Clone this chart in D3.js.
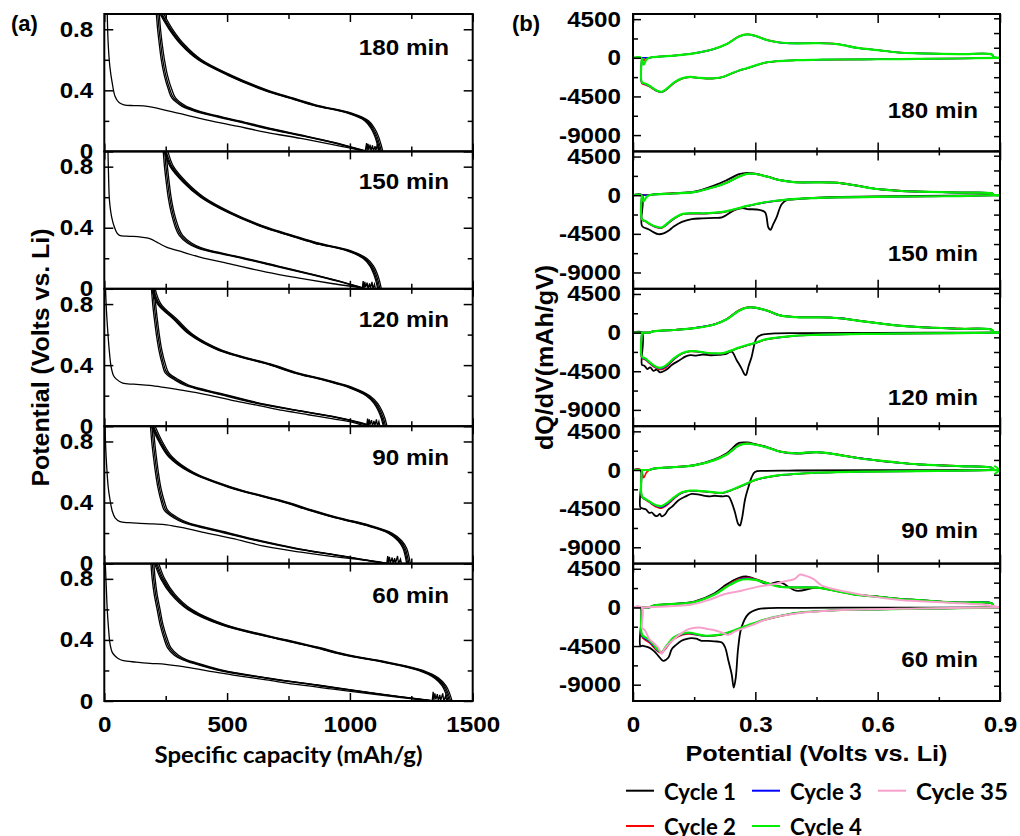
<!DOCTYPE html>
<html><head><meta charset="utf-8">
<script src="https://cdn.jsdelivr.net/npm/d3@7"></script>
<style>
html,body{margin:0;padding:0;background:#fff;}
svg{display:block;}
.arial{font-family:"Liberation Sans",Arial,sans-serif;font-weight:bold;fill:#000;}
.cal{font-family:Lato,"Open Sans",sans-serif;font-weight:bold;fill:#000;}
</style></head><body>
<svg id="chart" width="1020" height="836"></svg>
<script>
// ---------- labels and ticks ----------
const PANEL_LABELS = ["180 min", "150 min", "120 min", "90 min", "60 min"];
const CAP_TICKS_MAJOR = [0, 500, 1000, 1500];
const CAP_TICKS_MINOR = [250, 750, 1250];
const VOLT_TICKS_MAJOR = [0, 0.4, 0.8];
const VOLT_TICKS_MINOR = [0.2, 0.6];
const POT_TICKS_MAJOR = [0, 0.3, 0.6, 0.9];
const POT_TICKS_MINOR = [0.15, 0.45, 0.75];
const DQ_TICKS_MAJOR = [4500, 0, -4500, -9000];
const DQ_TICKS_MINOR = [2250, -2250, -6750];
const DQ_TICKS_RIGHT = [4600, 2880, 1170, -550, -2260, -3980, -5690, -7400, -9120, -10830];
const LEGEND = [
  {label: "Cycle 1", color: "#000000"},
  {label: "Cycle 2", color: "#ff0000"},
  {label: "Cycle 3", color: "#0000ff"},
  {label: "Cycle 4", color: "#00ee00"},
  {label: "Cycle 35", color: "#f7a0cc"}
];

// ---------- (a) voltage profiles: potential grids ----------
const CHARGE_V = [0, 0.05, 0.1, 0.15, 0.2, 0.25, 0.3, 0.35, 0.4, 0.5, 0.6, 0.7, 0.8, 0.9];
const DISCH_V = [0.9, 0.8, 0.7, 0.6, 0.5, 0.4, 0.35, 0.3, 0.27, 0.25, 0.2, 0.15, 0.1, 0.05, 0];

// first discharge, [capacity mAh/g, V], one per panel (180,150,120,90,60 min)
const firstDischarge = [
  [[12,0.9],[16,0.7],[23,0.55],[32,0.45],[44,0.36],[60,0.32],[80,0.305],[120,0.3],[160,0.298],[210,0.285],[260,0.265],[330,0.24],[420,0.205],[540,0.165],[660,0.125],[800,0.085],[930,0.045],[1030,0.012],[1060,0]],
  [[15,0.9],[18,0.7],[21,0.58],[30,0.47],[42,0.4],[52,0.365],[62,0.35],[90,0.345],[117,0.343],[150,0.338],[185,0.328],[220,0.3],[253,0.273],[320,0.24],[389,0.208],[520,0.16],[660,0.109],[800,0.068],[932,0.033],[1041,0.007],[1055,0]],
  [[5,0.9],[9,0.75],[14,0.625],[20,0.5],[28,0.387],[38,0.33],[48,0.31],[75,0.282],[120,0.275],[185,0.267],[250,0.252],[321,0.234],[420,0.205],[525,0.168],[630,0.135],[728,0.103],[830,0.075],[932,0.048],[1000,0.03],[1055,0.004],[1060,0]],
  [[3,0.9],[6,0.75],[10,0.63],[16,0.5],[23,0.42],[33,0.34],[44,0.3],[64,0.275],[100,0.268],[145,0.264],[200,0.26],[254,0.254],[320,0.235],[390,0.21],[520,0.165],[661,0.111],[800,0.075],[932,0.046],[1050,0.025],[1136,0.007],[1150,0]],
  [[4,0.9],[8,0.75],[12,0.6],[17,0.48],[23,0.378],[32,0.32],[44,0.295],[60,0.275],[78,0.264],[130,0.255],[186,0.247],[250,0.24],[321,0.225],[420,0.198],[525,0.17],[660,0.138],[797,0.105],[932,0.078],[1068,0.05],[1200,0.024],[1326,0.002],[1335,0]]
];

// charge capacities on CHARGE_V, cycles 1-4, per panel
const chargeCaps = [
  [[1134,1126,1116,1101,1076,1007,872,767,667,516,396,326,278,242],
   [1128,1120,1110,1095,1070,1000,865,760,660,510,390,320,272,235],
   [1123,1115,1105,1090,1065,995,860,755,655,505,386,316,268,231],
   [1119,1111,1101,1086,1061,991,856,751,651,501,382,312,264,227]],
  [[1128,1121,1111,1096,1068,1002,869,767,667,518,406,334,282,259],
   [1122,1115,1105,1090,1062,995,862,760,660,512,400,328,276,252],
   [1117,1110,1100,1085,1057,990,857,755,655,507,396,324,272,248],
   [1113,1106,1096,1081,1053,986,853,751,651,503,392,320,268,244]],
  [[1151,1143,1131,1113,1081,1017,912,787,692,476,361,296,231,207],
   [1145,1137,1125,1107,1075,1010,905,780,685,470,355,290,225,200],
   [1140,1132,1120,1102,1070,1005,900,775,680,465,351,286,221,196],
   [1136,1128,1116,1098,1066,1001,896,771,676,461,347,282,217,192]],
  [[1246,1240,1231,1211,1171,1082,957,847,752,521,361,276,236,207],
   [1240,1234,1225,1205,1165,1075,950,840,745,515,355,270,230,200],
   [1235,1229,1220,1200,1160,1070,945,835,740,510,351,266,226,196],
   [1231,1225,1216,1196,1156,1066,941,831,736,506,347,262,222,192]],
  [[1416,1406,1391,1361,1297,1168,998,878,743,492,356,287,246,222],
   [1410,1400,1385,1355,1290,1160,990,870,735,485,349,281,240,215],
   [1405,1395,1380,1350,1284,1153,983,863,728,479,344,276,235,210],
   [1400,1390,1375,1345,1279,1148,978,858,722,474,339,271,230,205]]
];

// discharge capacities on DISCH_V, cycles 2-4, per panel
const dischargeCaps = [
  [[212,217,224,232,244,262,275,312,355,395,530,660,810,950,1065],
   [218,223,230,238,250,268,282,320,364,405,540,668,816,955,1068],
   [224,229,236,245,257,276,290,329,374,415,550,676,822,960,1072]],
  [[240,245,252,260,272,290,305,338,375,415,560,690,825,950,1058],
   [246,251,258,266,278,296,312,346,384,425,568,697,830,954,1062],
   [252,257,264,272,284,303,319,355,393,435,576,704,836,958,1066]],
  [[192,197,204,212,222,237,248,290,325,365,490,620,790,965,1085],
   [198,203,210,218,228,243,255,298,334,375,500,628,796,970,1090],
   [204,209,216,224,234,250,262,307,343,385,510,636,802,975,1095]],
  [[188,193,200,208,218,233,244,282,320,360,490,620,770,960,1145],
   [194,199,206,214,224,239,251,290,329,370,500,628,777,965,1150],
   [200,205,212,220,230,246,258,299,338,380,510,636,784,970,1155]],
  [[190,195,203,215,227,245,257,285,318,355,465,655,875,1095,1335],
   [196,201,209,221,233,251,264,293,327,365,475,663,882,1100,1340],
   [202,207,215,227,239,258,271,302,336,375,485,671,889,1106,1345]]
];

// noisy low-voltage hold at the end of each discharge, [capacity, V]
const holdNoise = [
  [[1062,0],[1068,0.055],[1070,0.005],[1074,0.05],[1077,0.01],[1082,0.045],[1086,0.005],[1092,0.04],[1096,0],[1102,0.035],[1106,0.005],[1112,0.05],[1116,0]],
  [[1050,0],[1054,0.05],[1057,0.005],[1061,0.045],[1064,0.01],[1070,0.04],[1074,0],[1080,0.035],[1084,0.005],[1090,0.045],[1094,0],[1100,0.03],[1104,0]],
  [[1068,0],[1072,0.05],[1075,0.005],[1079,0.045],[1082,0.01],[1088,0.04],[1092,0],[1098,0.035],[1102,0.005],[1108,0.045],[1112,0],[1118,0.03],[1122,0]],
  [[1150,0],[1154,0.05],[1157,0.005],[1161,0.045],[1165,0.005],[1172,0.04],[1176,0],[1182,0.035],[1186,0.005],[1194,0.05],[1198,0],[1206,0.03],[1210,0]],
  [[1335,0],[1339,0.06],[1342,0.005],[1346,0.05],[1350,0.01],[1356,0.045],[1360,0],[1366,0.04],[1370,0.005],[1378,0.05],[1382,0],[1390,0.035],[1394,0]]
];

// ---------- (b) differential capacity: potential grids ----------
const UP_V = [0, 0.02, 0.026, 0.033, 0.04, 0.05, 0.1, 0.15, 0.2, 0.23, 0.26, 0.28, 0.3, 0.33, 0.36, 0.4, 0.45, 0.5, 0.55, 0.6, 0.65, 0.7, 0.8, 0.88, 0.885, 0.9];
const DOWN_V = [0.9, 0.8, 0.7, 0.6, 0.5, 0.45, 0.4, 0.35, 0.32, 0.3, 0.28, 0.26, 0.24, 0.22, 0.2, 0.18, 0.16, 0.14, 0.12, 0.1, 0.09, 0.08, 0.07, 0.06, 0.05, 0.04, 0.03, 0.022, 0.022];

// delithiation branch (dQ/dV on UP_V), per panel
const upCycle1 = [
  null,
  [0,0,0,0,0,90,230,420,1150,1750,2450,2600,2500,2150,1750,1500,1500,1450,1100,720,520,420,300,210,30,0],
  [0,0,0,0,0,150,300,520,960,1560,2560,2900,2890,2540,2000,1800,1780,1700,1400,1100,820,650,450,320,40,0],
  [0,0,0,0,0,160,340,560,1250,1950,3150,3200,3000,2650,2150,1900,2050,1800,1400,1100,850,650,450,260,40,0],
  [0,0,0,0,0,220,420,680,1650,2700,3450,3590,3300,2700,2950,1950,2300,1900,1450,1250,1000,850,560,470,80,0]
];
const upCycle2 = [
  [0,0,-300,0,0,90,260,530,1060,1620,2500,2750,2560,2060,1790,1690,1710,1610,1160,910,630,530,430,390,60,0],
  [0,0,0,0,0,80,210,360,970,1470,2170,2500,2480,2160,1760,1510,1510,1460,1110,730,530,430,310,220,40,0],
  [0,0,0,0,0,150,310,540,980,1600,2600,2950,2920,2560,2020,1820,1800,1720,1420,1110,830,660,460,330,40,0],
  [0,0,-900,-300,0,150,340,540,1170,1830,2900,3100,2980,2620,2170,1970,2100,1820,1420,1120,860,660,460,270,40,0],
  [0,0,0,0,0,200,400,640,1550,2500,3300,3480,3300,2850,2450,2300,2300,1920,1480,1270,1020,870,570,470,80,0]
];
const upCycle3 = [
  [0,0,0,0,0,85,255,525,1040,1590,2470,2720,2540,2040,1770,1680,1700,1600,1150,900,620,520,420,400,80,0],
  [0,0,0,0,0,80,205,355,960,1460,2160,2490,2475,2155,1755,1505,1505,1455,1105,725,525,425,305,230,40,0],
  [0,0,0,0,0,150,305,530,960,1570,2570,2920,2910,2550,2010,1810,1790,1710,1410,1105,825,655,455,325,40,0],
  [0,0,0,0,0,150,335,535,1160,1815,2870,3080,2960,2610,2160,1960,2090,1810,1410,1115,855,655,455,265,40,0],
  [0,0,0,0,0,200,400,630,1520,2450,3230,3380,3250,2820,2420,2330,2310,1930,1470,1260,1010,860,570,480,80,0]
];
const upCycle4 = [
  [0,0,-800,-200,0,80,250,520,1050,1600,2480,2730,2550,2050,1780,1680,1700,1600,1150,900,620,520,420,380,60,0],
  [0,0,-700,-200,0,80,200,350,950,1450,2150,2480,2470,2150,1750,1500,1500,1450,1100,720,520,420,300,210,30,0],
  [0,0,0,0,0,150,300,520,950,1550,2550,2900,2900,2550,2000,1800,1780,1700,1400,1100,820,650,450,320,40,0],
  [0,0,0,0,0,150,330,530,1150,1800,2850,3060,2950,2600,2150,1950,2080,1800,1400,1110,850,650,450,260,40,0],
  [0,0,0,0,0,200,400,620,1500,2400,3150,3300,3200,2800,2400,2340,2300,1900,1450,1250,1000,850,560,470,80,0]
];

// lithiation branch (dQ/dV on DOWN_V), per panel
const downCycle2 = [
  [0,-80,-130,-170,-210,-240,-290,-420,-620,-920,-1230,-1500,-1870,-2250,-2400,-2420,-2350,-2260,-2450,-2980,-3380,-3780,-4020,-3900,-3650,-3350,-3150,-3000,0],
  [0,-100,-150,-200,-270,-340,-440,-680,-880,-1080,-1280,-1540,-1800,-2000,-2080,-2150,-2150,-2150,-2260,-2780,-3150,-3550,-3850,-3780,-3620,-3350,-3050,-2850,0],
  [0,-60,-100,-140,-210,-270,-370,-630,-890,-1250,-1500,-1800,-2150,-2450,-2470,-2400,-2250,-2200,-2480,-3150,-3650,-4100,-4300,-4200,-3950,-3550,-3150,-2950,0],
  [0,-80,-130,-180,-260,-330,-470,-680,-940,-1200,-1600,-2000,-2400,-2700,-2650,-2550,-2470,-2450,-2680,-3350,-3800,-4200,-4450,-4350,-4100,-3750,-3450,-3150,0],
  [0,-100,-160,-230,-340,-460,-670,-1130,-1480,-1830,-2150,-2500,-2850,-3150,-3300,-3350,-3250,-3100,-3200,-3700,-4200,-4800,-5300,-5100,-4600,-4100,-3800,-3400,0]
];
const downCycle3 = [
  [0,-80,-130,-170,-200,-230,-280,-410,-610,-910,-1210,-1490,-1860,-2240,-2390,-2410,-2340,-2240,-2420,-2930,-3330,-3730,-3990,-3870,-3600,-3280,-3050,-2900,0],
  [0,-100,-150,-200,-265,-335,-430,-665,-865,-1065,-1265,-1520,-1775,-1975,-2055,-2120,-2120,-2120,-2230,-2740,-3100,-3500,-3800,-3740,-3600,-3320,-3020,-2820,0],
  [0,-60,-100,-140,-205,-265,-360,-615,-870,-1225,-1475,-1775,-2125,-2425,-2445,-2375,-2225,-2175,-2440,-3080,-3550,-3970,-4200,-4120,-3860,-3480,-3080,-2870,0],
  [0,-80,-130,-180,-255,-325,-460,-665,-920,-1175,-1575,-1975,-2375,-2675,-2625,-2525,-2445,-2425,-2640,-3270,-3700,-4080,-4330,-4250,-4030,-3700,-3410,-3100,0],
  [0,-100,-160,-230,-335,-455,-660,-1115,-1465,-1815,-2125,-2475,-2825,-3125,-3275,-3325,-3200,-3020,-3120,-3600,-4100,-4700,-5250,-5000,-4450,-3950,-3650,-3300,0]
];
const downCycle4 = [
  [0,-80,-130,-170,-200,-230,-280,-400,-600,-900,-1200,-1480,-1850,-2230,-2380,-2400,-2330,-2230,-2400,-2900,-3300,-3700,-3970,-3850,-3580,-3250,-3000,-2850,0],
  [0,-100,-150,-200,-260,-330,-420,-650,-850,-1050,-1250,-1500,-1750,-1950,-2030,-2100,-2100,-2100,-2200,-2700,-3050,-3450,-3760,-3700,-3570,-3300,-3000,-2800,0],
  [0,-60,-100,-140,-200,-260,-350,-600,-850,-1200,-1450,-1750,-2100,-2400,-2420,-2350,-2200,-2150,-2400,-3000,-3450,-3850,-4080,-4050,-3780,-3400,-3000,-2800,0],
  [0,-80,-130,-180,-250,-320,-450,-650,-900,-1150,-1550,-1950,-2350,-2650,-2600,-2500,-2420,-2400,-2600,-3200,-3600,-3950,-4200,-4150,-3960,-3650,-3370,-3060,0],
  [0,-100,-160,-230,-330,-450,-650,-1100,-1450,-1800,-2100,-2450,-2800,-3100,-3250,-3300,-3150,-2950,-3050,-3500,-4000,-4600,-5200,-4900,-4300,-3800,-3500,-3150,0]
];
// first lithiation, [V, dQ/dV], with its sharp peak
const downCycle1 = [
  null,
  [[0.9,0],[0.7,-80],[0.5,-200],[0.43,-350],[0.39,-500],[0.38,-525],[0.365,-1030],[0.352,-2590],[0.344,-3370],[0.337,-4030],[0.332,-3760],[0.324,-2000],[0.31,-1700],[0.28,-1610],[0.27,-1500],[0.25,-1700],[0.218,-2590],[0.2,-2650],[0.17,-2700],[0.144,-2780],[0.12,-3100],[0.1,-3650],[0.087,-4150],[0.075,-4450],[0.062,-4540],[0.05,-4300],[0.038,-3960],[0.022,-3570],[0.022,0],[0,0]],
  [[0.9,0],[0.6,-30],[0.4,-60],[0.348,-100],[0.315,-270],[0.303,-650],[0.291,-2800],[0.283,-3970],[0.277,-4940],[0.274,-4900],[0.266,-4160],[0.254,-3190],[0.242,-2220],[0.226,-2520],[0.21,-2600],[0.19,-2640],[0.17,-2560],[0.155,-2680],[0.14,-2620],[0.128,-2800],[0.115,-3200],[0.095,-3770],[0.085,-4200],[0.075,-4500],[0.066,-4630],[0.058,-4300],[0.05,-4450],[0.042,-4050],[0.035,-4250],[0.028,-3850],[0.022,-3770],[0.022,0],[0,0]],
  [[0.9,0],[0.6,-30],[0.4,-60],[0.32,-100],[0.299,-230],[0.291,-840],[0.283,-2000],[0.275,-3370],[0.267,-5700],[0.262,-6480],[0.258,-6290],[0.25,-4930],[0.242,-3760],[0.234,-3060],[0.218,-3060],[0.2,-3000],[0.185,-3060],[0.165,-2900],[0.144,-2780],[0.128,-3100],[0.111,-3560],[0.095,-4300],[0.087,-4580],[0.078,-5200],[0.07,-5400],[0.066,-5100],[0.06,-5350],[0.054,-5310],[0.046,-4950],[0.04,-5000],[0.032,-4600],[0.025,-4500],[0.018,-4340],[0.018,0],[0,0]],
  [[0.9,0],[0.6,-30],[0.4,-60],[0.307,-200],[0.283,-770],[0.266,-2330],[0.258,-4670],[0.252,-8170],[0.247,-9340],[0.242,-7780],[0.234,-6220],[0.226,-4670],[0.218,-4090],[0.2,-3950],[0.185,-3890],[0.168,-3890],[0.155,-3650],[0.144,-3580],[0.13,-3700],[0.119,-3890],[0.105,-4400],[0.095,-4860],[0.087,-5830],[0.074,-6220],[0.062,-5640],[0.054,-5200],[0.046,-4860],[0.035,-4600],[0.025,-4470],[0.018,-4470],[0.018,0],[0,0]]
];
// cycle 35 (60 min electrode only), [V, dQ/dV]
const cycle35Up = [[0,0],[0.02,0],[0.05,40],[0.1,150],[0.144,330],[0.185,860],[0.226,1560],[0.266,1950],[0.307,2420],[0.348,2730],[0.373,3040],[0.397,3310],[0.409,3820],[0.422,3700],[0.442,3310],[0.463,2530],[0.491,2140],[0.573,1370],[0.655,860],[0.777,550],[0.88,200],[0.9,0]];
const cycle35Down = [[0.9,0],[0.7,-120],[0.5,-330],[0.4,-700],[0.33,-1350],[0.29,-2100],[0.25,-2800],[0.234,-3200],[0.218,-2920],[0.2,-2650],[0.185,-2530],[0.16,-2330],[0.136,-2530],[0.119,-3000],[0.1,-3700],[0.085,-4400],[0.075,-5000],[0.07,-5400],[0.062,-4700],[0.05,-4100],[0.04,-3700],[0.03,-2720],[0.025,-2500],[0.022,-2400],[0.022,0],[0,0]];
// arrowhead at the end of the 90 min cycle 4 trace
const arrow90 = [[0.886,500],[0.9,0],[0.886,-500]];

// ---------- layout ----------
const svg = d3.select("#chart");
const TOP = 14, PH = 137.4, NP = 5;
const LX = [104.3, 472.7], RX = [633, 1000];
const leftLabelDy = [41, 38, 38, 39, 39];
const rightLabelDy = [104, 110, 116, 112, 103];

const xCap = d3.scaleLinear().domain([0, 1500]).range(LX);
const xPot = d3.scaleLinear().domain([0, 0.9]).range(RX);

function stretch(sel, k) {
  sel.each(function () {
    const w = this.getComputedTextLength();
    d3.select(this).attr("textLength", w * k).attr("lengthAdjust", "spacingAndGlyphs");
  });
}
function clean(g) { g.select(".domain").remove(); g.selectAll(".tick line").attr("stroke-width", 1.5); }
function fmtV(d) { return d === 0 ? "0" : d.toFixed(1); }

const defs = svg.append("defs");

for (let i = 0; i < NP; i++) {
  const top = TOP + i * PH, bot = top + PH;

  // ===== left: voltage profiles =====
  const yV = d3.scaleLinear().domain([0, 0.9]).range([bot, top]);
  defs.append("clipPath").attr("id", "cl" + i).append("rect")
    .attr("x", LX[0]).attr("y", top).attr("width", LX[1] - LX[0]).attr("height", PH);
  const gl = svg.append("g");
  const smooth = d3.line().x(d => xCap(d[0])).y(d => yV(d[1])).curve(d3.curveCatmullRom.alpha(0.5));
  const straight = d3.line().x(d => xCap(d[0])).y(d => yV(d[1]));
  const cv = gl.append("g").attr("clip-path", `url(#cl${i})`)
    .attr("fill", "none").attr("stroke", "#000").attr("stroke-width", 1.3);
  cv.append("path").attr("d", smooth(firstDischarge[i]));
  chargeCaps[i].forEach(c => cv.append("path").attr("d", smooth(CHARGE_V.map((v, k) => [c[k], v]))));
  dischargeCaps[i].forEach(c => cv.append("path").attr("d", smooth(DISCH_V.map((v, k) => [c[k], v]))));
  cv.append("path").attr("d", straight(holdNoise[i]));

  gl.append("g").attr("transform", `translate(${LX[0]},0)`)
    .call(d3.axisLeft(yV).tickValues(VOLT_TICKS_MAJOR).tickSize(-9).tickPadding(11).tickFormat(fmtV)).call(clean)
    .selectAll("text").attr("class", "arial tl").attr("font-size", 22);
  gl.append("g").attr("transform", `translate(${LX[0]},0)`)
    .call(d3.axisLeft(yV).tickValues(VOLT_TICKS_MINOR).tickSize(-5).tickFormat("")).call(clean);
  gl.append("g").attr("transform", `translate(${LX[1]},0)`)
    .call(d3.axisRight(yV).tickValues(VOLT_TICKS_MAJOR).tickSize(-9).tickFormat("")).call(clean);
  gl.append("g").attr("transform", `translate(${LX[1]},0)`)
    .call(d3.axisRight(yV).tickValues(VOLT_TICKS_MINOR).tickSize(-5).tickFormat("")).call(clean);
  gl.append("g").attr("transform", `translate(0,${top})`)
    .call(d3.axisTop(xCap).tickValues(CAP_TICKS_MAJOR).tickSize(-8).tickFormat("")).call(clean);
  gl.append("g").attr("transform", `translate(0,${top})`)
    .call(d3.axisTop(xCap).tickValues(CAP_TICKS_MINOR).tickSize(-5).tickFormat("")).call(clean);
  const bx = gl.append("g").attr("transform", `translate(0,${bot})`)
    .call(d3.axisBottom(xCap).tickValues(CAP_TICKS_MAJOR).tickSize(-8).tickPadding(15)
      .tickFormat(i === NP - 1 ? d3.format("d") : "")).call(clean);
  bx.selectAll("text").attr("class", "arial tl").attr("font-size", 22);
  gl.append("g").attr("transform", `translate(0,${bot})`)
    .call(d3.axisBottom(xCap).tickValues(CAP_TICKS_MINOR).tickSize(-5).tickFormat("")).call(clean);
  gl.append("rect").attr("x", LX[0]).attr("y", top).attr("width", LX[1] - LX[0]).attr("height", PH)
    .attr("fill", "none").attr("stroke", "#000").attr("stroke-width", 2);
  gl.append("text").attr("class", "arial tl").attr("font-size", 22).attr("text-anchor", "end")
    .attr("x", 449).attr("y", top + leftLabelDy[i]).text(PANEL_LABELS[i]);

  // ===== right: dQ/dV =====
  const yD = d3.scaleLinear().domain([-10900, 5100]).range([bot, top]);
  defs.append("clipPath").attr("id", "cr" + i).append("rect")
    .attr("x", RX[0]).attr("y", top).attr("width", RX[1] - RX[0] + 1).attr("height", PH);
  const gr = svg.append("g");
  const dl = d3.line().x(d => xPot(d[0])).y(d => yD(d[1])).curve(d3.curveCatmullRom.alpha(0.5));
  const dc = gr.append("g").attr("clip-path", `url(#cr${i})`).attr("fill", "none")
    .attr("stroke-linejoin", "round");
  const put = (pts, color, w) => dc.append("path").attr("d", dl(pts)).attr("stroke", color).attr("stroke-width", w);
  const onUp = a => UP_V.map((v, k) => [v, a[k]]);
  const onDown = a => DOWN_V.map((v, k) => [v, a[k]]);

  if (upCycle1[i]) put(onUp(upCycle1[i]), LEGEND[0].color, 1.8);
  if (downCycle1[i]) put(downCycle1[i], LEGEND[0].color, 1.8);
  put(onUp(upCycle2[i]), LEGEND[1].color, 1.6);
  put(onDown(downCycle2[i]), LEGEND[1].color, 1.6);
  put(onUp(upCycle3[i]), LEGEND[2].color, 1.6);
  put(onDown(downCycle3[i]), LEGEND[2].color, 1.6);
  put(onUp(upCycle4[i]), LEGEND[3].color, 2.2);
  put(onDown(downCycle4[i]), LEGEND[3].color, 2.2);
  if (i === 3) dc.append("path").attr("d", d3.line().x(d => xPot(d[0])).y(d => yD(d[1]))(arrow90))
    .attr("stroke", LEGEND[3].color).attr("stroke-width", 2);
  if (i === 4) {
    put(cycle35Up, LEGEND[4].color, 2);
    put(cycle35Down, LEGEND[4].color, 2);
  }

  gr.append("g").attr("transform", `translate(${RX[0]},0)`)
    .call(d3.axisLeft(yD).tickValues(DQ_TICKS_MAJOR).tickSize(-8).tickPadding(12).tickFormat(d => String(d))).call(clean)
    .selectAll("text").attr("class", "arial tl").attr("font-size", 22);
  gr.append("g").attr("transform", `translate(${RX[0]},0)`)
    .call(d3.axisLeft(yD).tickValues(DQ_TICKS_MINOR).tickSize(-5).tickFormat("")).call(clean);
  gr.append("g").attr("transform", `translate(${RX[1]},0)`)
    .call(d3.axisRight(yD).tickValues(DQ_TICKS_RIGHT).tickSize(-6).tickFormat("")).call(clean);
  gr.append("g").attr("transform", `translate(0,${top})`)
    .call(d3.axisTop(xPot).tickValues(POT_TICKS_MAJOR).tickSize(-9).tickFormat("")).call(clean);
  gr.append("g").attr("transform", `translate(0,${top})`)
    .call(d3.axisTop(xPot).tickValues(POT_TICKS_MINOR).tickSize(-4).tickFormat("")).call(clean);
  const rb = gr.append("g").attr("transform", `translate(0,${bot})`)
    .call(d3.axisBottom(xPot).tickValues(POT_TICKS_MAJOR).tickSize(-9).tickPadding(15)
      .tickFormat(i === NP - 1 ? (d => d === 0 ? "0" : d.toFixed(1)) : "")).call(clean);
  rb.selectAll("text").attr("class", "arial tl").attr("font-size", 22);
  gr.append("g").attr("transform", `translate(0,${bot})`)
    .call(d3.axisBottom(xPot).tickValues(POT_TICKS_MINOR).tickSize(-4).tickFormat("")).call(clean);
  gr.append("rect").attr("x", RX[0]).attr("y", top).attr("width", RX[1] - RX[0]).attr("height", PH)
    .attr("fill", "none").attr("stroke", "#000").attr("stroke-width", 2);
  gr.append("text").attr("class", "arial tl").attr("font-size", 22).attr("text-anchor", "end")
    .attr("x", 978).attr("y", top + rightLabelDy[i]).text(PANEL_LABELS[i]);
}

// panel letters
svg.append("text").attr("class", "arial").attr("font-size", 22).attr("x", 11).attr("y", 31).text("(a)");
svg.append("text").attr("class", "arial").attr("font-size", 22).attr("x", 512).attr("y", 31).text("(b)");

// axis titles
svg.append("text").attr("class", "arial").attr("font-size", 23).attr("text-anchor", "middle")
  .attr("transform", "translate(41,357.5) rotate(-90)").attr("dy", "0.35em")
  .attr("textLength", 258).attr("lengthAdjust", "spacingAndGlyphs").text("Potential (Volts vs. Li)");
svg.append("text").attr("class", "arial").attr("font-size", 23).attr("text-anchor", "middle")
  .attr("transform", "translate(545,357.5) rotate(-90)").attr("dy", "0.35em")
  .attr("textLength", 185).attr("lengthAdjust", "spacingAndGlyphs").text("dQ/dV(mAh/gV)");
svg.append("text").attr("class", "cal").attr("font-size", 22).attr("text-anchor", "middle")
  .attr("x", (LX[0] + LX[1]) / 2).attr("y", 763)
  .attr("textLength", 268).attr("lengthAdjust", "spacingAndGlyphs").text("Specific capacity (mAh/g)");
svg.append("text").attr("class", "arial").attr("font-size", 22).attr("text-anchor", "middle")
  .attr("x", (RX[0] + RX[1]) / 2).attr("y", 760.5)
  .attr("textLength", 262).attr("lengthAdjust", "spacingAndGlyphs").text("Potential (Volts vs. Li)");

// legend: two rows, three columns
const legCols = [626, 752, 878], legRows = [790.7, 826];
const legPos = [[0, 0], [0, 1], [1, 0], [1, 1], [2, 0]];
const lg = svg.append("g");
LEGEND.forEach((e, k) => {
  const [c, r] = legPos[k];
  const x = legCols[c], y = legRows[r];
  lg.append("line").attr("x1", x).attr("x2", x + 28).attr("y1", y).attr("y2", y)
    .attr("stroke", e.color).attr("stroke-width", 2);
  lg.append("text").attr("class", "cal").attr("font-size", 22).attr("x", x + 38).attr("y", y + 9)
    .attr("textLength", e.label.length > 7 ? 92 : 72).attr("lengthAdjust", "spacingAndGlyphs").text(e.label);
});

// widen the bold sans labels slightly
stretch(svg.selectAll("text.tl"), 1.1);
</script></body></html>
